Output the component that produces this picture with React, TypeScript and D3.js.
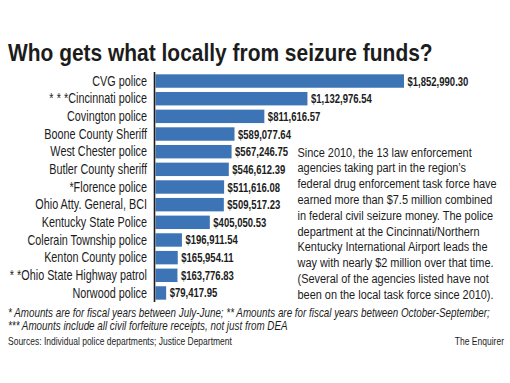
import React from "react";
import * as d3 from "d3";

const categories = [
  "CVG police",
  "***Cincinnati police",
  "Covington police",
  "Boone County Sheriff",
  "West Chester police",
  "Butler County sheriff",
  "*Florence police",
  "Ohio Atty. General, BCI",
  "Kentucky State Police",
  "Colerain Township police",
  "Kenton County police",
  "**Ohio State Highway patrol",
  "Norwood police",
];
const values = [
  1852990.3, 1132976.54, 811616.57, 589077.64, 567246.75, 546612.39, 511616.08,
  509517.23, 405050.53, 196911.54, 165954.11, 163776.83, 79417.95,
];
const paragraph = [
  "Since 2010, the 13 law enforcement",
  "agencies taking part in the region\u2019s",
  "federal drug enforcement task force have",
  "earned more than $7.5 million combined",
  "in federal civil seizure money. The police",
  "department at the Cincinnati/Northern",
  "Kentucky International Airport leads the",
  "way with nearly $2 million over that time.",
  "(Several of the agencies listed have not",
  "been on the local task force since 2010).",
];
const footnotes = [
  "* Amounts are for fiscal years between July-June; ** Amounts are for fiscal years between October-September;",
  "*** Amounts include all civil forfeiture receipts, not just from DEA",
];
const sourceText = "Sources: Individual police departments; Justice Department";
const creditText = "The Enquirer";
const titleText = "Who gets what locally from seizure funds?";

const SANS = "'Liberation Sans', Arial, sans-serif";
const INK = "#1c1c1c";

type TProps = {
  x: number;
  y: number;
  size: number;
  sx: number;
  anchor?: "start" | "end" | "middle";
  weight?: string;
  italic?: boolean;
  children: React.ReactNode;
};
function T({ x, y, size, sx, anchor = "start", weight = "normal", italic = false, children }: TProps) {
  return (
    <text
      transform={`translate(${x},${y}) scale(${sx},1)`}
      textAnchor={anchor}
      fontFamily={SANS}
      fontSize={size}
      fontWeight={weight}
      fontStyle={italic ? "italic" : "normal"}
      fill={INK}
    >
      {children}
    </text>
  );
}

function Label({ text }: { text: string }) {
  const m = text.match(/^(\**)(.*)$/)!;
  const stars = m[1];
  return (
    <>
      {stars.length > 1 ? <tspan letterSpacing={4}>{stars.slice(0, -1)}</tspan> : null}
      {stars.length > 0 ? <tspan>{stars.slice(-1)}</tspan> : null}
      <tspan>{m[2]}</tspan>
    </>
  );
}

export default function App() {
  const W = 510, H = 383;
  const x0 = 155.5;
  const x = d3.scaleLinear().domain([0, 1852990.3]).range([x0, 404]);
  const y = d3
    .scaleBand<string>()
    .domain(categories)
    .range([72.2, 301.8])
    .paddingInner(0.24)
    .paddingOuter(0.12);
  const fmt = d3.format("$,.2f");
  const bw = y.bandwidth();
  return (
    <svg width={W} height={H} style={{ position: "absolute", left: 0, top: 0, background: "#fff" }}>
      <T x={8} y={61} size={24.5} sx={0.855} weight="bold">{titleText}</T>
      {categories.map((c, i) => (
        <g key={c}>
          <rect x={x0} y={y(c)!} width={x(values[i]) - x0} height={bw} fill="#3d74b6" />
          <T x={147} y={y(c)! + bw / 2 + 4.7} size={13.8} sx={0.785} anchor="end">
            <Label text={c} />
          </T>
          <T x={x(values[i]) + 3.5} y={y(c)! + bw / 2 + 4.5} size={12.7} sx={0.75} weight="bold">
            {fmt(values[i])}
          </T>
        </g>
      ))}
      <line x1={x0 - 1} x2={x0 - 1} y1={72} y2={302} stroke={INK} strokeWidth={1.6} />
      {paragraph.map((l, i) => (
        <T key={i} x={297.5} y={156.5 + i * 15.8} size={13.5} sx={0.81}>{l}</T>
      ))}
      {footnotes.map((f, i) => (
        <T key={i} x={8} y={316.5 + i * 13.2} size={12} sx={0.82} italic>{f}</T>
      ))}
      <T x={8} y={344.5} size={10.5} sx={0.81}>{sourceText}</T>
      <T x={504} y={344.5} size={10.5} sx={0.81} anchor="end">{creditText}</T>
    </svg>
  );
}
